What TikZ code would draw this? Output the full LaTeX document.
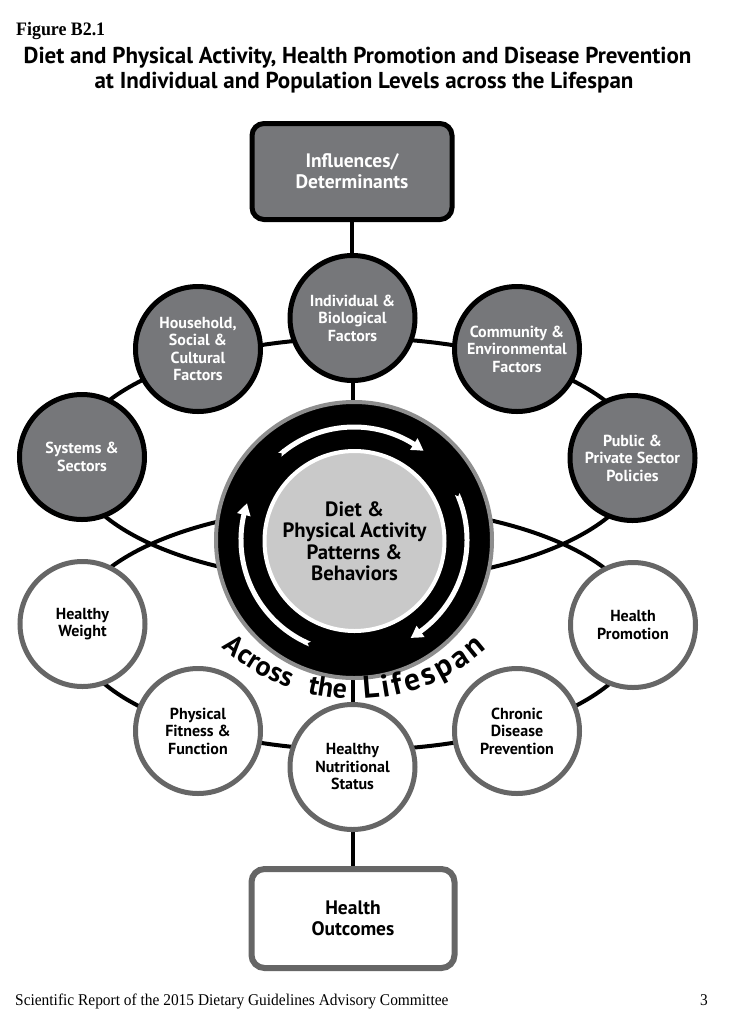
\documentclass[tikz,border=0pt]{standalone}
\usepackage{fontspec}
\setmainfont{PT Sans}
\newfontfamily\serifcond[FakeStretch=0.94]{Liberation Serif}
\usetikzlibrary{arrows.meta,bending,decorations.text}
\pgfdeclarelayer{bg}
\pgfsetlayers{bg,main}
\definecolor{topgray}{HTML}{76777A}
\definecolor{edgegray}{HTML}{666666}
\definecolor{ringgray}{HTML}{8E8E8E}
\definecolor{coregray}{HTML}{C9C9C9}
\newcommand\acrossfont{\fontsize{28}{28}\selectfont\bfseries}
\newcommand\lifefont{\fontsize{31.5}{31.5}\selectfont\bfseries}
\begin{document}
\begin{tikzpicture}[x=1pt,y=-1pt,
  conn/.style={line width=4pt, draw=black},
  circtext/.style={align=center, font=\fontsize{16}{17.5}\selectfont\bfseries},
  topcirc/.style={circle, draw=black, line width=5pt, fill=topgray, minimum size=125pt, inner sep=0pt, text=white, circtext},
  botcirc/.style={circle, draw=edgegray, line width=5pt, fill=white, minimum size=125pt, inner sep=0pt, text=black, circtext},
  topbox/.style={rectangle, rounded corners=12pt, draw=black, line width=5pt, fill=topgray, minimum width=200pt, minimum height=96pt, text=white, align=center, font=\fontsize{19.5}{21}\selectfont\bfseries},
  botbox/.style={rectangle, rounded corners=13pt, draw=edgegray, line width=6pt, fill=white, minimum width=203pt, minimum height=99pt, text=black, align=center, font=\fontsize{19.5}{21}\selectfont\bfseries},
  arw/.style={draw=white, line width=5pt, {Triangle Cap[reversed]}-{Triangle[length=12pt,width=13pt,bend]}},
  lifetext/.style={decorate, decoration={text along path, text align=fit to path, text={#1}}}
]
\begin{pgfonlayer}{bg}
\fill[white] (0,0) rectangle (735,1026);
\end{pgfonlayer}
\useasboundingbox (0,0) rectangle (735,1026);

% header
\node[anchor=base west, inner sep=0pt, font=\serifcond\fontsize{19}{19}\selectfont\bfseries] (fig) at (16,35) {Figure B2.1};
\node[anchor=base, inner sep=0pt, font=\fontsize{23}{23}\selectfont\bfseries] (t1) at (357.5,63.5) {Diet and Physical Activity, Health Promotion and Disease Prevention};
\node[anchor=base, inner sep=0pt, font=\fontsize{23}{23}\selectfont\bfseries] (t2) at (364,88.5) {at Individual and Population Levels across the Lifespan};

% boxes
\node[topbox] (infl) at (352,171.5) {Influences/\\Determinants};
\node[botbox] (outc) at (353,918.5) {Health\\Outcomes};

% central ring
\node[circle, draw=ringgray, line width=4pt, fill=black, minimum size=276pt, inner sep=0pt] (ring) at (354,540) {};
\node[circle, draw=white, line width=4pt, fill=coregray, minimum size=180pt, inner sep=0pt, align=center, font=\fontsize{20.7}{21.5}\selectfont\bfseries] (core) at (354.5,541) {Diet \&\\Physical Activity\\Patterns \&\\Behaviors};

% arrows in ring
\draw[arw] (ring.center) ++(229:113) arc[start angle=229, end angle=308, radius=113];
\draw[arw] (ring.center) ++(-24:113) arc[start angle=-24, end angle=60, radius=113];
\draw[arw] (ring.center) ++(113:113) arc[start angle=113, end angle=199, radius=113];

% top circles
\node[topcirc] (indiv) at (352.5,318) {Individual \&\\Biological\\Factors};
\node[topcirc] (house) at (198,349) {Household,\\Social \&\\Cultural\\Factors};
\node[topcirc] (comm) at (517,349) {Community \&\\Environmental\\Factors};
\node[topcirc] (sys) at (82,457) {Systems \&\\Sectors};
\node[topcirc] (pub) at (632.5,458) {Public \&\\Private Sector\\Policies};

% bottom circles
\node[botcirc] (hw) at (82.5,624) {Healthy\\Weight};
\node[botcirc] (hp) at (633,625) {Health\\Promotion};
\node[botcirc] (pf) at (198,731) {Physical\\Fitness \&\\Function};
\node[botcirc] (cd) at (517,731) {Chronic\\Disease\\Prevention};
\node[botcirc] (hns) at (352.5,767) {Healthy\\Nutritional\\Status};

% connectors
\begin{pgfonlayer}{bg}
\draw[conn] (357,460) ellipse [x radius=284, y radius=122];
\draw[conn] (357,628) ellipse [x radius=284, y radius=122];
\draw[conn] (infl.south) -- (infl.south |- indiv.north);
\draw[conn] (indiv.south) -- (indiv.south |- ring.north);
\draw[conn] (hns.north |- ring.south) -- (hns.north);
\draw[conn] (hns.south) -- (hns.south |- outc.north);
\end{pgfonlayer}

% across the lifespan
\path[lifetext={|\acrossfont|Across}] (355,502) ++(132.5:197) arc[start angle=132.5, end angle=109.5, radius=197];
\path[lifetext={|\acrossfont|the}] (355,502) ++(104:197) arc[start angle=104, end angle=92.5, radius=197];
\path[lifetext={|\lifefont|Lifespan}] (355,502) ++(87.5:197) arc[start angle=87.5, end angle=48, radius=197];

% footer
\node[anchor=base west, inner sep=0pt, font=\serifcond\fontsize{16.4}{16.4}\selectfont] (foot) at (15,1005) {Scientific Report of the 2015 Dietary Guidelines Advisory Committee};
\node[anchor=base east, inner sep=0pt, font=\serifcond\fontsize{16.4}{16.4}\selectfont] (page) at (708,1005) {3};
\end{tikzpicture}
\end{document}
